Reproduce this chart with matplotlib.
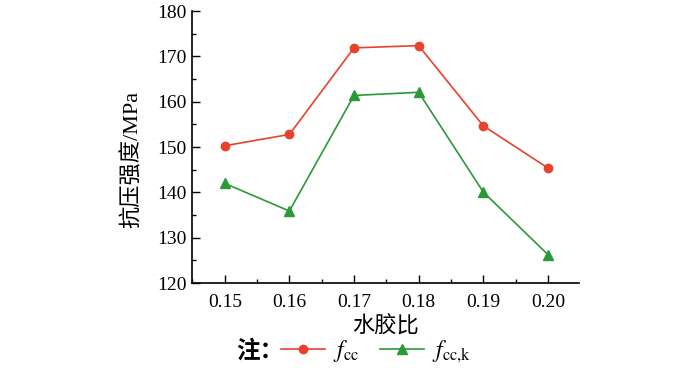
import matplotlib
matplotlib.use("Agg")
import matplotlib.pyplot as plt
from matplotlib.ticker import MultipleLocator
from matplotlib.lines import Line2D

plt.rcParams['font.family'] = ['Liberation Serif', 'Noto Sans CJK SC', 'DejaVu Sans']
plt.rcParams['mathtext.fontset'] = 'stix'

# 数据
ratios = [0.15, 0.16, 0.17, 0.18, 0.19, 0.20]
tick_labels = ['0.15', '0.16', '0.17', '0.18', '0.19', '0.20']
f_cc = [150.3, 152.8, 171.9, 172.4, 154.7, 145.4]
f_cck = [142.0, 135.9, 161.4, 162.1, 140.1, 126.3]

red = '#e8412c'
green = '#2a9a36'

fig = plt.figure(figsize=(7, 3.72), dpi=100)
ax = fig.add_axes([0.274, 0.239, 0.553, 0.731])

ax.plot(ratios, f_cc, color=red, marker='o', markersize=6, lw=1.2)
ax.plot(ratios, f_cck, color=green, marker='^', markersize=6.5, lw=1.2)

ax.set_xlim(0.1449, 0.2048)
ax.set_ylim(120, 180)
ax.set_xticks(ratios)
ax.set_xticklabels(tick_labels)
ax.xaxis.set_minor_locator(MultipleLocator(0.005))
ax.yaxis.set_major_locator(MultipleLocator(10))
ax.yaxis.set_minor_locator(MultipleLocator(5))
ax.tick_params(which='both', direction='in', labelsize=14, width=1)
ax.tick_params(which='major', length=6)
ax.tick_params(which='minor', length=3)
ax.tick_params(axis='x', pad=8)
for s in ['top', 'right']:
    ax.spines[s].set_visible(False)
for s in ['left', 'bottom']:
    ax.spines[s].set_linewidth(1.2)

ax.set_xlabel('水胶比', fontsize=16, labelpad=4)
ax.set_ylabel('抗压强度/MPa', fontsize=16)
ax.yaxis.set_label_coords(-0.125, 0.455)

# 图例
handles = [Line2D([], [], color=red, marker='o', markersize=6, lw=1.2),
           Line2D([], [], color=green, marker='^', markersize=6.5, lw=1.2)]
fig.legend(handles, [r'$f_{\rm cc}$', r'$f_{\rm cc{,}k}$'], ncol=2, frameon=False,
           fontsize=17, loc='center left', bbox_to_anchor=(0.371, 0.055),
           handlelength=1.85, columnspacing=0.9, handletextpad=0.35)
fig.text(0.338, 0.055, '注：', fontsize=17, fontweight='bold', va='center', ha='left')

fig.savefig('out.png', dpi=100)
